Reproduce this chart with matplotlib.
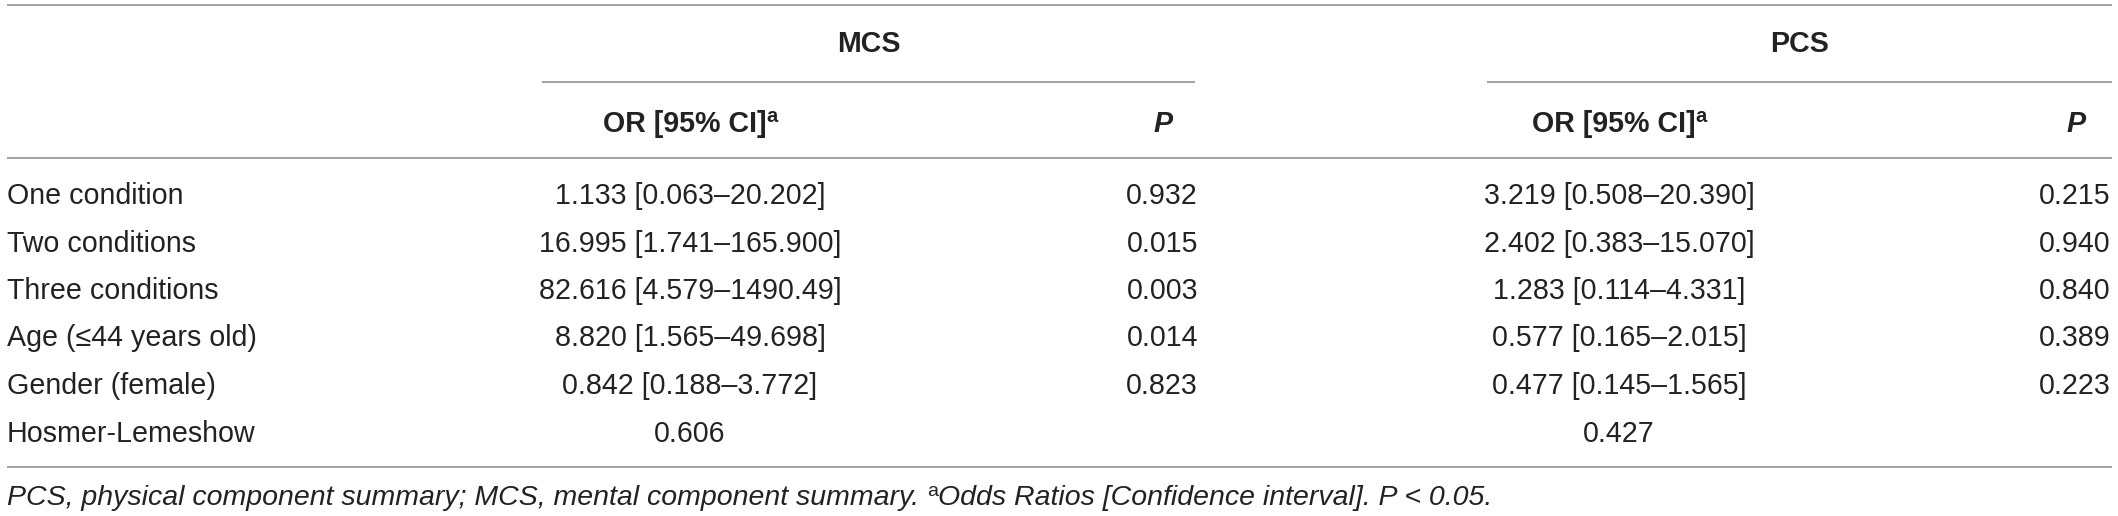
import matplotlib
matplotlib.use("Agg")
import matplotlib.pyplot as plt

# table content
row_labels = ["One condition", "Two conditions", "Three conditions",
              "Age (\u226444 years old)", "Gender (female)", "Hosmer-Lemeshow"]
mcs_or = ["1.133 [0.063\u201320.202]", "16.995 [1.741\u2013165.900]",
          "82.616 [4.579\u20131490.49]", "8.820 [1.565\u201349.698]",
          "0.842 [0.188\u20133.772]", "0.606"]
mcs_p = ["0.932", "0.015", "0.003", "0.014", "0.823", ""]
pcs_or = ["3.219 [0.508\u201320.390]", "2.402 [0.383\u201315.070]",
          "1.283 [0.114\u20134.331]", "0.577 [0.165\u20132.015]",
          "0.477 [0.145\u20131.565]", "0.427"]
pcs_p = ["0.215", "0.940", "0.840", "0.389", "0.223", ""]
groups = ["MCS", "PCS"]
col_head = "OR [95% CI]"
foot_a = "PCS, physical component summary; MCS, mental component summary. "
foot_b = "Odds Ratios [Confidence interval]. P < 0.05."

W, H = 2118, 516
TXT = "#222222"
LINE = "#8a8a8a"
FS = 20.6

plt.rcParams["font.family"] = ["Liberation Sans", "DejaVu Sans"]

fig = plt.figure(figsize=(W / 100, H / 100), dpi=100)
ax = fig.add_axes([0, 0, 1, 1])
ax.set_xlim(0, W)
ax.set_ylim(H, 0)
ax.axis("off")
fig.canvas.draw()
rend = fig.canvas.get_renderer()


def hline(x0, x1, y):
    ax.plot([x0, x1], [y, y], color=LINE, lw=1.1, solid_capstyle="butt")


def pieces(x, y, parts, align="left"):
    # parts: list of (text, kwargs, dy); drawn one after another
    arts = []
    cx = x
    for s, kw, dy in parts:
        t = ax.text(cx, y + dy, s, va="baseline", ha="left", color=TXT, **kw)
        w = t.get_window_extent(rend).width
        arts.append(t)
        cx += w
    total = cx - x
    shift = {"left": 0, "center": -total / 2, "right": -total}[align]
    for t in arts:
        px, py = t.get_position()
        t.set_position((px + shift, py))


# rules
left, right = 7, 2112
hline(left, right, 5)
hline(left, right, 158)
hline(left, right, 467)
spans = [(542, 1195), (1487, 2112)]
for (a, b) in spans:
    hline(a, b, 82)

# group headers
for g, (a, b) in zip(groups, spans):
    ax.text((a + b) / 2, 52, g, ha="center", va="baseline",
            fontsize=FS, fontweight="bold", color=TXT)

or_x = [690, 1619]
p_right = [1198, 2111]
for ox, pr in zip(or_x, p_right):
    pieces(ox, 132, [(col_head, dict(fontsize=FS, fontweight="bold"), 0),
                     ("a", dict(fontsize=FS * 0.7, fontweight="bold"), -10)],
           align="center")
    ax.text(pr - 25, 132, "P", ha="right", va="baseline", fontsize=FS,
            fontweight="bold", fontstyle="italic", color=TXT)

# body rows
for i, lab in enumerate(row_labels):
    yb = 204 + 47.5 * i
    ax.text(left, yb, lab, ha="left", va="baseline", fontsize=FS, color=TXT)
    ax.text(or_x[0], yb, mcs_or[i], ha="center", va="baseline", fontsize=FS, color=TXT)
    ax.text(p_right[0], yb, mcs_p[i], ha="right", va="baseline", fontsize=FS, color=TXT)
    ax.text(or_x[1], yb, pcs_or[i], ha="center", va="baseline", fontsize=FS, color=TXT)
    ax.text(p_right[1], yb, pcs_p[i], ha="right", va="baseline", fontsize=FS, color=TXT)

# footnote
pieces(left, 505, [(foot_a, dict(fontsize=20.5, fontstyle="italic"), 0),
                   ("a", dict(fontsize=14), -9),
                   (foot_b, dict(fontsize=20.5, fontstyle="italic"), 0)])

fig.savefig("out.png", dpi=100, facecolor="white")
